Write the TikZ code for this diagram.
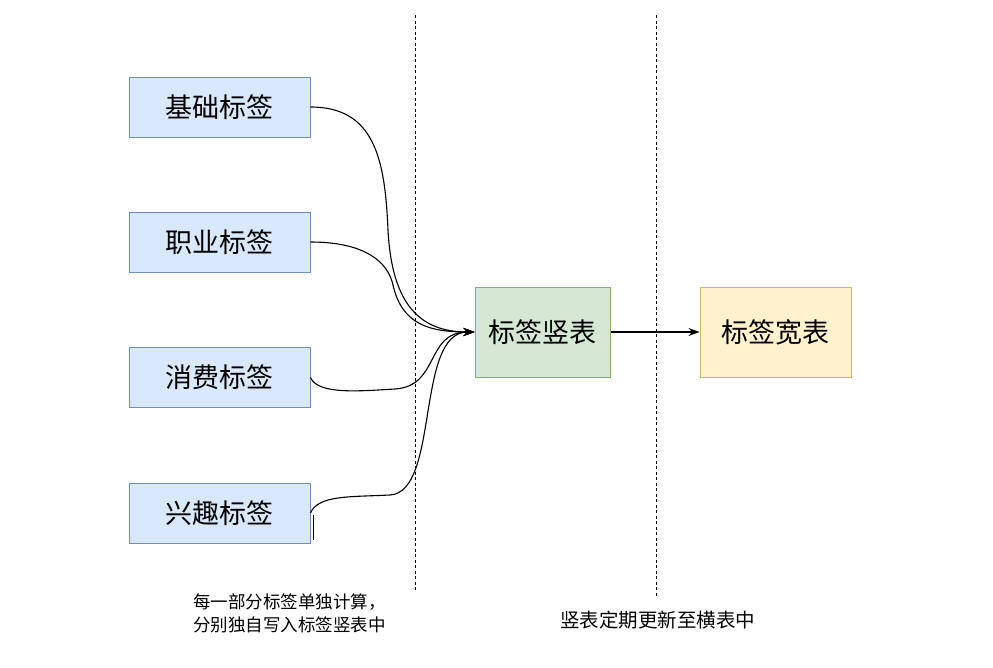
\documentclass[tikz,border=0pt]{standalone}
\usepackage{fontspec}
\setmainfont{Noto Sans CJK SC}
\usetikzlibrary{arrows.meta}
\definecolor{bfill}{HTML}{DAE8FC}\definecolor{bdraw}{HTML}{6C8EBF}
\definecolor{gfill}{HTML}{D5E8D4}\definecolor{gdraw}{HTML}{82B366}
\definecolor{yfill}{HTML}{FFF2CC}\definecolor{ydraw}{HTML}{D6B656}
\tikzset{
  tagbox/.style={draw=bdraw,fill=bfill,line width=1pt,minimum width=181pt,minimum height=60pt,inner sep=0pt,font=\fontsize{27}{32}\selectfont},
  vbox/.style={draw=gdraw,fill=gfill,line width=1pt,minimum width=135pt,minimum height=90pt,inner sep=0pt,font=\fontsize{27}{32}\selectfont},
  wbox/.style={draw=ydraw,fill=yfill,line width=1pt,minimum width=151pt,minimum height=90pt,inner sep=0pt,font=\fontsize{27}{32}\selectfont},
  conn/.style={line width=1.1pt,-{Stealth[length=11pt,width=8pt]}},
  sep/.style={line width=0.9pt,dash pattern=on 3pt off 2.5pt},
  note/.style={font=\fontsize{17.5}{23}\selectfont,align=left,inner sep=0pt}
}
\begin{document}
\begin{tikzpicture}[x=1pt,y=-1pt]
\useasboundingbox (0,0) rectangle (993,667);
\fill[white] (0,0) rectangle (993,667);
\coordinate (d1t) at (415,15); \coordinate (d1b) at (415,592);
\coordinate (d2t) at (656,15); \coordinate (d2b) at (656,597);
\draw[sep] (d1t) -- (d1b);
\draw[sep] (d2t) -- (d2b);
\node[tagbox] (a) at (219.5,107) {基础标签};
\node[tagbox] (b) at (219.5,242) {职业标签};
\node[tagbox] (c) at (219.5,377.5) {消费标签};
\node[tagbox] (d) at (219.5,513) {兴趣标签};
\node[vbox] (v) at (542.5,332) {标签竖表};
\node[wbox] (w) at (775.5,332) {标签宽表};
\draw[conn] (a.east) .. controls (375,107) and (385,160) .. (388,230) .. controls (392,305) and (420,332) .. (v.west);
\draw[conn] (b.east) .. controls (365,242) and (388,262) .. (393,285) .. controls (402,325) and (430,332) .. (v.west);
\draw[conn] (c.east) .. controls (318,395) and (360,391) .. (395,389) .. controls (440,386) and (425,332) .. (v.west);
\draw[conn] (d.east) .. controls (318,495) and (350,497) .. (390,495) .. controls (440,492) and (415,332) .. (v.west);
\draw[line width=1pt] (313,515) -- (313,540);
\draw[conn] (v.east) -- (w.west);
\node[note,anchor=north west] (n1) at (193,593) {每一部分标签单独计算，\\分别独自写入标签竖表中};
\node[note,anchor=west,font=\fontsize{19.5}{24}\selectfont] (n2) at (560,620) {竖表定期更新至横表中};
\end{tikzpicture}
\end{document}
